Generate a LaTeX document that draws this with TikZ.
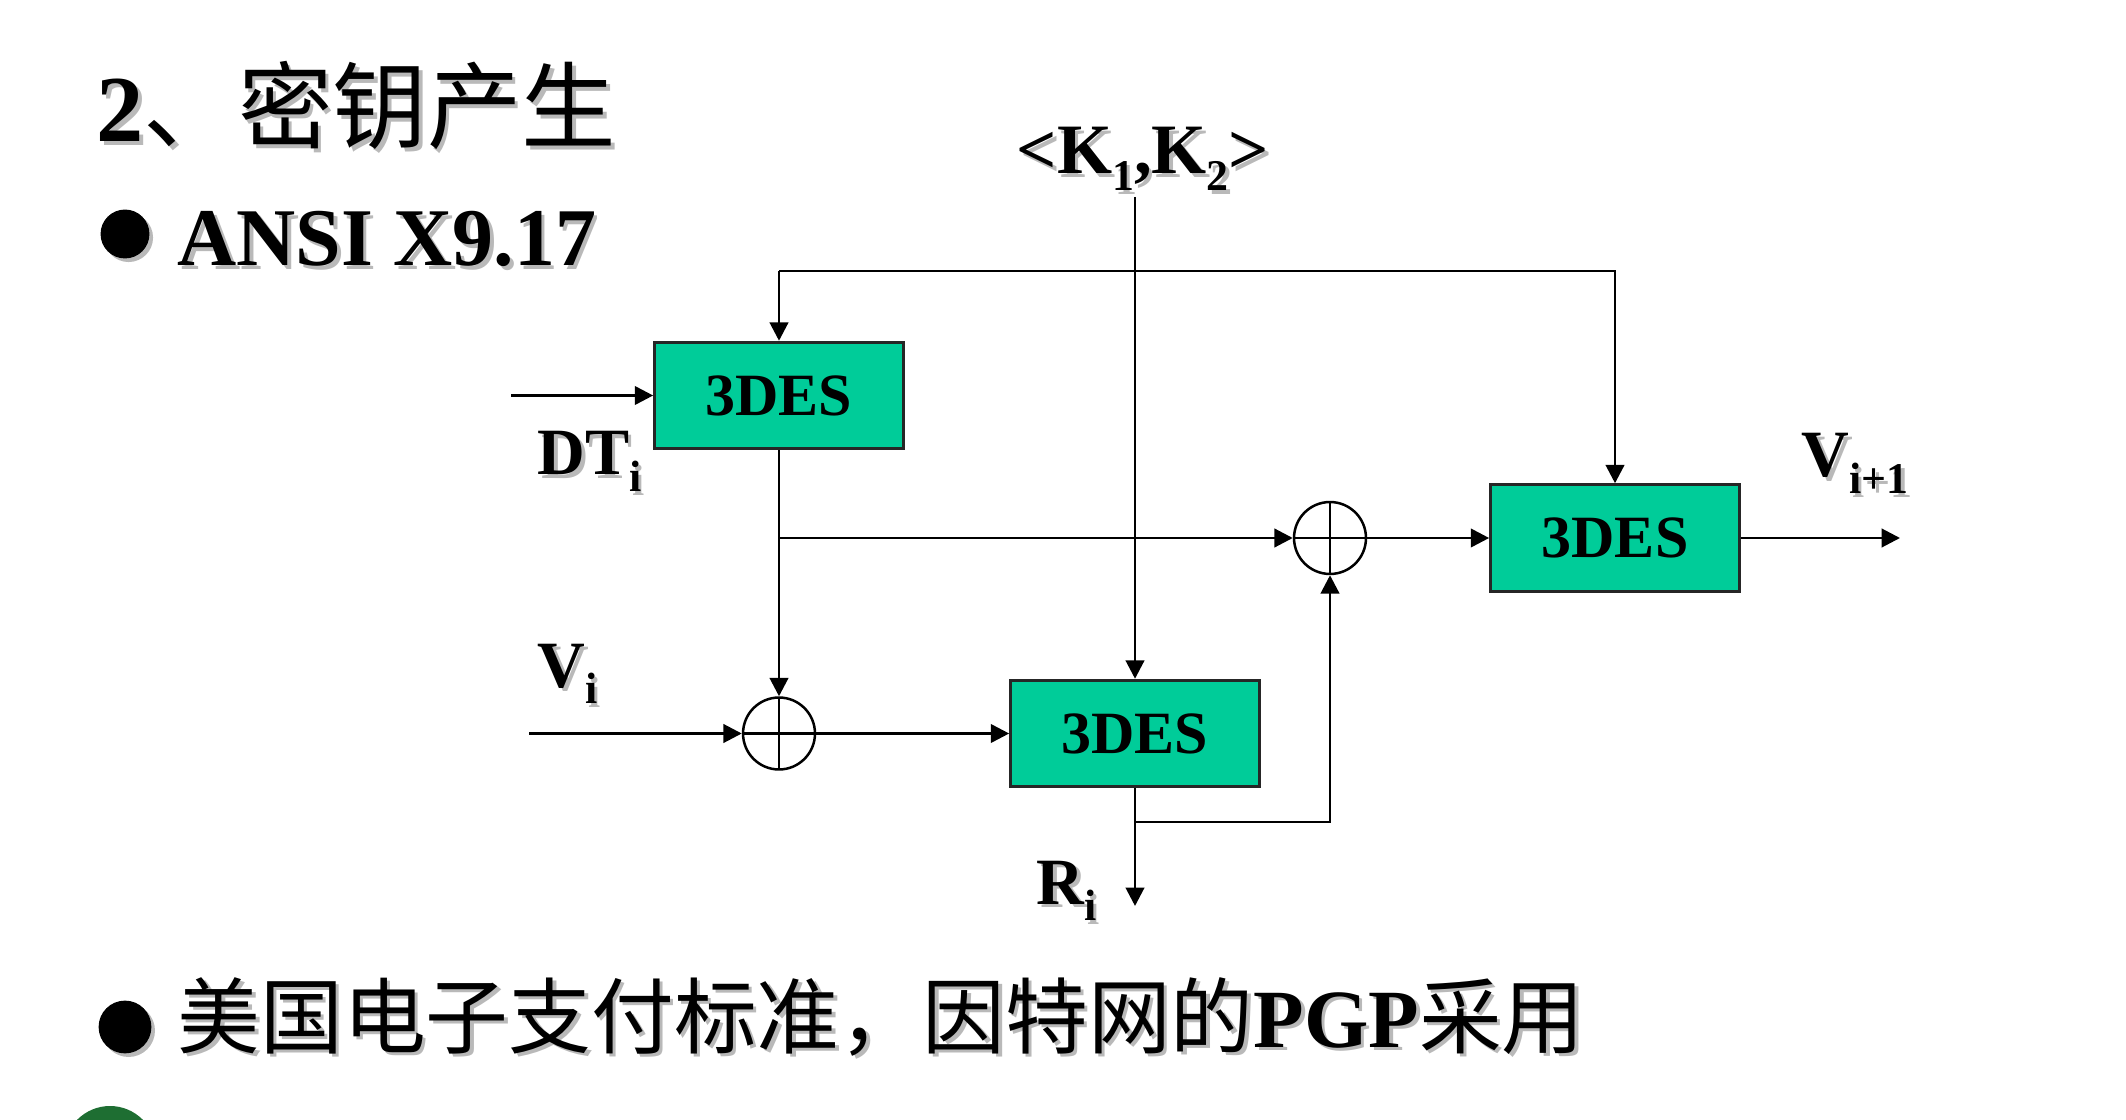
\documentclass[tikz,border=0pt]{standalone}
\usepackage{fontspec}
\setmainfont{Liberation Serif}
\newfontfamily\cjk{Noto Sans CJK SC}
\usetikzlibrary{arrows.meta,shadows}

\definecolor{desgreen}{RGB}{0,204,153}
\definecolor{shadowgray}{RGB}{185,185,185}
\definecolor{logogreen}{RGB}{30,110,50}

% text with a light grey drop shadow
\newcommand\shd[1]{\leavevmode\rlap{\kern1.3pt\raisebox{-1.3pt}{\color{shadowgray}#1}}#1}
% label with a lowered index
\newcommand\subidx[1]{\raisebox{-6.1pt}{\fontsize{15.8pt}{18pt}\selectfont #1}}
\newcommand\lbl[2]{\shd{#1\subidx{#2}}}
% Chinese text in regular weight
\newcommand\zh{\cjk\mdseries}

\begin{document}
\begin{tikzpicture}[x=0.36pt, y=-0.36pt, font=\bfseries,
  line width=1.05pt,
  arr/.style={-{Triangle[length=6.6pt,width=6.6pt]}},
  desbox/.style={draw=black!85, fill=desgreen, line width=1.1pt,
    minimum width=89.5pt, minimum height=38.3pt, inner sep=0pt,
    font=\bfseries\fontsize{21.6pt}{26pt}\selectfont},
  xorc/.style={circle, draw, line width=0.9pt, minimum size=25.9pt, inner sep=0pt,
    path picture={\draw[line width=0.9pt]
      (path picture bounding box.north) -- (path picture bounding box.south)
      (path picture bounding box.west) -- (path picture bounding box.east);}},
  txt/.style={inner sep=0pt, anchor=base west},
  bulletdot/.style={circle, fill=black, minimum width=16.9pt, inner sep=0pt,
    drop shadow={shadow xshift=1.3pt, shadow yshift=-1.3pt, fill=shadowgray, opacity=1}},
]
\useasboundingbox (0,0) rectangle (2126,1120);

% headings
\node[txt] (title) at (95,142)
  {\fontsize{34pt}{40pt}\selectfont\shd{2\zh 、密钥产生}};
\node[bulletdot, minimum height=17.6pt] (b1) at (125,234) {};
\node[txt] (ansi) at (176,266)
  {\fontsize{29.5pt}{35pt}\selectfont\shd{ANSI X9.17}};
\node[bulletdot, minimum height=19pt] (b2) at (125,1027) {};
\node[txt] (usage) at (176,1047)
  {\fontsize{29.8pt}{35pt}\selectfont\shd{\zh 美国电子支付标准，因特网的\rmfamily\bfseries PGP\zh 采用}};

% partly visible emblem at the lower left
\fill[logogreen] (110,1152) circle [radius=46];

% blocks
\node[desbox] (des1) at (779,395.5) {3DES};
\node[desbox] (des2) at (1615,538) {3DES};
\node[desbox] (des3) at (1135,733.5) {3DES};
\node[xorc] (xor1) at (779,733.5) {};
\node[xorc] (xor2) at (1330,538) {};

% labels
\node[anchor=base, inner sep=0pt] (keys) at (1143,174)
  {\fontsize{25.5pt}{30pt}\selectfont\shd{<K\subidx{1},K\subidx{2}>}};
\node[txt] (dt) at (536,475) {\fontsize{23.8pt}{28pt}\selectfont\lbl{DT}{i}};
\node[txt] (vi) at (536,687) {\fontsize{23.8pt}{28pt}\selectfont\lbl{V}{i}};
\node[txt] (vnext) at (1800,477) {\fontsize{23.8pt}{28pt}\selectfont\lbl{V}{i+1}};
\node[txt] (ri) at (1035,904) {\fontsize{23.8pt}{28pt}\selectfont\lbl{R}{i}};

% connector end points and corners
\coordinate (ktop) at (1135,197);
\coordinate (fbL) at (779,271);
\coordinate (fbR) at (1615,271);
\coordinate (dtin) at (511,395.5);
\coordinate (vin) at (529,733.5);
\coordinate (br1) at (779,538);
\coordinate (br2) at (1135,822);
\coordinate (rout) at (1135,906);
\coordinate (vout) at (1900,538);

% connectors
\draw[arr] (ktop) -- (des3.north);
\draw[arr] (fbL) -- (des1.north);
\draw[arr] (fbL) -- (fbR) -- (des2.north);
\draw[arr] (dtin) -- (des1.west);
\draw[arr] (des1.south) -- (xor1.north);
\draw[arr] (br1) -- (xor2.west);
\draw[arr] (xor2.east) -- (des2.west);
\draw[arr] (des2.east) -- (vout);
\draw[arr] (vin) -- (xor1.west);
\draw[arr] (xor1.east) -- (des3.west);
\draw[arr] (des3.south) -- (rout);
\draw[arr] (br2) -| (xor2.south);
\end{tikzpicture}
\end{document}
